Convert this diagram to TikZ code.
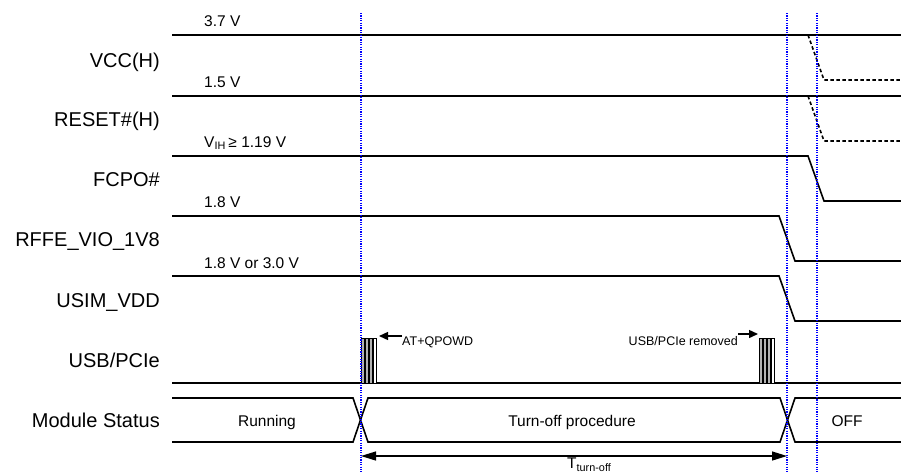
\documentclass[tikz,border=0pt]{standalone}
\usepackage{fontspec}
\setmainfont{Liberation Sans}
\usetikzlibrary{arrows.meta}

\begin{document}
\begin{tikzpicture}[
  x=1pt, y=-1pt,
  signal/.style={line width=1.6pt, line join=miter},
  offline/.style={line width=1.6pt, dash pattern=on 3.5pt off 2.5pt},
  pulse/.style={line width=1pt, fill=gray!60},
  marker/.style={blue, line width=1.1pt, dash pattern=on 1.2pt off 1.2pt},
  sig/.style={anchor=base east, inner sep=0pt, font=\fontsize{20}{24}\selectfont},
  level/.style={anchor=base west, inner sep=0pt, font=\fontsize{15.5}{18}\selectfont},
  state/.style={anchor=base, inner sep=0pt, font=\fontsize{15.5}{18}\selectfont},
  note/.style={anchor=base, inner sep=0pt, font=\fontsize{12.5}{15}\selectfont}
]
\useasboundingbox (0,0) rectangle (901,472);

% Signal names
\node[sig] (vcc) at (160,67) {VCC(H)};
\node[sig] (reset) at (160,126) {RESET\#(H)};
\node[sig] (fcpo) at (160,186) {FCPO\#};
\node[sig] (rffe) at (160,246) {RFFE\_VIO\_1V8};
\node[sig] (usim) at (160,307) {USIM\_VDD};
\node[sig] (usb) at (160,367) {USB/PCIe};
\node[sig] (status) at (160,427) {Module Status};

% Levels
\node[level] (lvcc) at (204,26) {3.7 V};
\node[level] (lreset) at (204,87) {1.5 V};
\node[level] (lfcpo) at (204,147) {V\textsubscript{IH}\,≥ 1.19 V};
\node[level] (lrffe) at (204,207) {1.8 V};
\node[level] (lusim) at (204,268) {1.8 V or 3.0 V};

% Waveforms
\draw[signal] (172,35) -- (901,35);
\draw[offline] (808,35) -- (824,80) -- (901,80);
\draw[signal] (172,96) -- (901,96);
\draw[offline] (808,96) -- (824,141) -- (901,141);
\draw[signal] (172,156) -- (808,156) -- (824,201) -- (901,201);
\draw[signal] (172,216) -- (779,216) -- (795,261) -- (901,261);
\draw[signal] (172,276) -- (779,276) -- (795,321) -- (901,321);

% USB/PCIe activity
\draw[signal] (172,383) -- (901,383);
\foreach \s in {361,759} {
  \foreach \dx in {0,4,8}
    \filldraw[pulse] ({\s+\dx},383) rectangle ({\s+\dx+3},338);
  \filldraw[pulse, fill=white] ({\s+12.3},383) rectangle ({\s+15.7},338);
}
\node[note, anchor=base west] (cmd) at (402,345) {AT+QPOWD};
\node[note, anchor=base east] (removed) at (738,345) {USB/PCIe removed};
\draw[-{Triangle[length=9pt,width=8pt]}, line width=1.4pt] (cmd.west |- 0,336) -- (379,336);
\draw[-{Triangle[length=9pt,width=8pt]}, line width=1.4pt] (removed.east |- 0,334) -- (758,334);

% Module status
\draw[signal] (172,398) -- (353,398) -- (368,442) -- (780,442) -- (795,398) -- (901,398);
\draw[signal] (172,442) -- (353,442) -- (368,398) -- (780,398) -- (795,442) -- (901,442);
\node[state] (running) at (267,426) {Running};
\node[state] (turnoff) at (572,426) {Turn-off procedure};
\node[state] (off) at (847,426) {OFF};

% Timing
\coordinate (tstart) at (361,456);
\coordinate (tend) at (787,456);
\draw[{Triangle[length=15pt,width=9pt]}-{Triangle[length=15pt,width=9pt]}, line width=1.3pt] (tstart) -- (tend);
\node[level] (tlabel) at (567,468.5) {T\textsubscript{turn-off}};

% Markers
\draw[marker] (361,13) -- (361,472);
\draw[marker] (787,13) -- (787,472);
\draw[marker] (817,13) -- (817,472);

\end{tikzpicture}
\end{document}
